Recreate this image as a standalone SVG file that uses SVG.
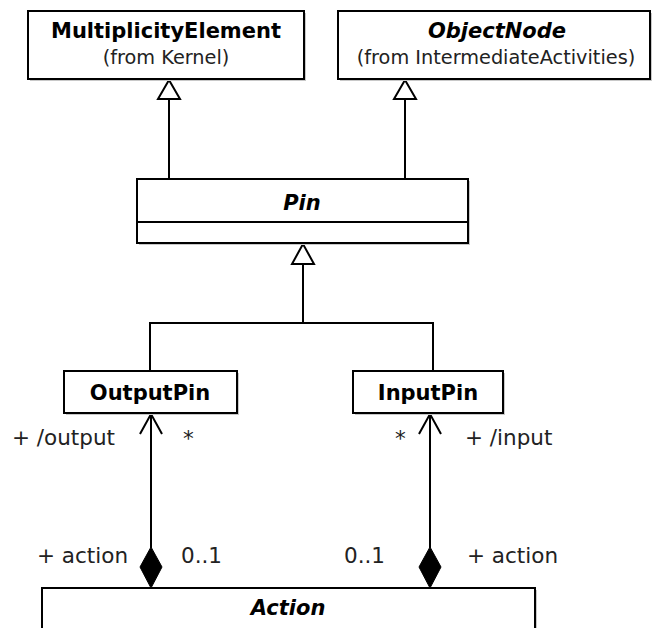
<svg xmlns="http://www.w3.org/2000/svg" width="652" height="628" viewBox="0 0 652 628">
<style>
  .box { fill: #ffffff; stroke: #000000; stroke-width: 2; }
  .shadow { fill: #c8c8c8; stroke: none; }
  .line { fill: none; stroke: #000000; stroke-width: 2; }
  .gen { fill: #ffffff; stroke: #000000; stroke-width: 2; stroke-linejoin: miter; }
  .comp { fill: #000000; stroke: #000000; stroke-width: 1; }
  .title { font-family: "DejaVu Sans", Verdana, sans-serif; font-weight: bold; font-size: 21px; fill: #000; text-anchor: middle; }
  .ital { font-style: italic; }
  .sub { font-family: "DejaVu Sans", Verdana, sans-serif; font-size: 19.3px; fill: #222; text-anchor: middle; }
  .lbl { font-family: "DejaVu Sans", Verdana, sans-serif; font-size: 21.5px; fill: #222; }
</style>

<g id="connectors">
  <!-- generalization: Pin -> MultiplicityElement -->
  <line class="line" x1="169" y1="99" x2="169" y2="180"/>
  <polygon class="gen" points="169,80 158,99 180,99"/>
  <!-- generalization: Pin -> ObjectNode -->
  <line class="line" x1="405" y1="99" x2="405" y2="180"/>
  <polygon class="gen" points="405,80 394,99 416,99"/>
  <!-- generalization: OutputPin/InputPin -> Pin -->
  <polyline class="line" points="150,372 150,323 433,323 433,372"/>
  <line class="line" x1="303" y1="264" x2="303" y2="323"/>
  <polygon class="gen" points="303,244 292,264 314,264"/>
  <!-- association Action -> OutputPin -->
  <line class="line" x1="151" y1="414" x2="151" y2="548"/>
  <polyline class="line" points="140,434 151,414 162,434"/>
  <polygon class="comp" points="151,547 162,567 151,588 140,567"/>
  <!-- association Action -> InputPin -->
  <line class="line" x1="430" y1="414" x2="430" y2="548"/>
  <polyline class="line" points="419,434 430,414 441,434"/>
  <polygon class="comp" points="430,547 441,567 430,588 419,567"/>
  <!-- end labels -->
  <text class="lbl" x="12" y="445">+ /output</text>
  <text class="lbl" x="183" y="446">*</text>
  <text class="lbl" x="395" y="446">*</text>
  <text class="lbl" x="465" y="445">+ /input</text>
  <text class="lbl" x="37" y="563">+ action</text>
  <text class="lbl" x="181" y="563">0..1</text>
  <text class="lbl" x="344" y="563">0..1</text>
  <text class="lbl" x="467" y="563">+ action</text>
</g>

<g id="MultiplicityElement">
  <rect class="shadow" x="30" y="13" width="276" height="68"/>
  <rect class="box" x="28" y="11" width="276" height="68"/>
  <text class="title" x="166" y="38">MultiplicityElement</text>
  <text class="sub" x="166" y="64">(from Kernel)</text>
</g>

<g id="ObjectNode">
  <rect class="shadow" x="340" y="13" width="312" height="68"/>
  <rect class="box" x="338" y="11" width="312" height="68"/>
  <text class="title ital" x="497" y="38">ObjectNode</text>
  <text class="sub" x="496" y="64">(from IntermediateActivities)</text>
</g>

<g id="Pin">
  <rect class="shadow" x="139" y="181" width="331" height="64"/>
  <rect class="box" x="137" y="179" width="331" height="64"/>
  <line class="line" x1="137" y1="222" x2="468" y2="222"/>
  <text class="title ital" x="302" y="210">Pin</text>
</g>

<g id="OutputPin">
  <rect class="shadow" x="66" y="373" width="173" height="42"/>
  <rect class="box" x="64" y="371" width="173" height="42"/>
  <text class="title" x="150" y="400">OutputPin</text>
</g>

<g id="InputPin">
  <rect class="shadow" x="355" y="373" width="150" height="42"/>
  <rect class="box" x="353" y="371" width="150" height="42"/>
  <text class="title" x="428" y="400">InputPin</text>
</g>

<g id="Action">
  <rect class="shadow" x="44" y="590" width="493" height="60"/>
  <rect class="box" x="42" y="588" width="493" height="60"/>
  <text class="title ital" x="288" y="615">Action</text>
</g>
</svg>
